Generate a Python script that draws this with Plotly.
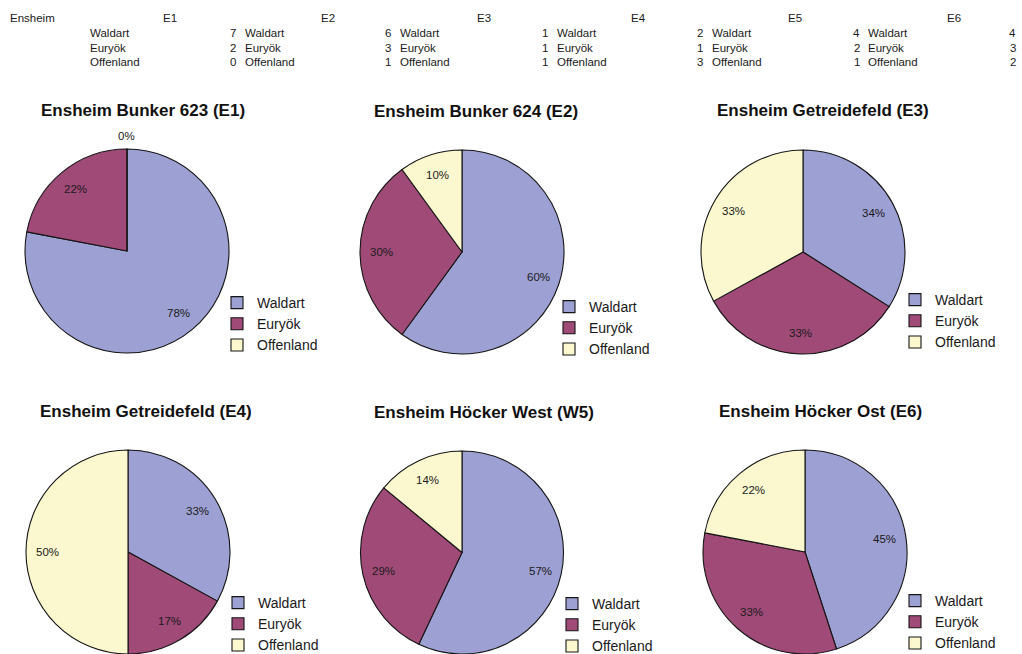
import math
import plotly.graph_objects as go

# ---- data -------------------------------------------------------------
categories = ["Waldart", "Euryök", "Offenland"]

site_codes = ["E1", "E2", "E3", "E4", "E5", "E6"]
site_titles = [
    "Ensheim Bunker 623 (E1)",
    "Ensheim Bunker 624 (E2)",
    "Ensheim Getreidefeld (E3)",
    "Ensheim Getreidefeld (E4)",
    "Ensheim Höcker West (W5)",
    "Ensheim Höcker Ost (E6)",
]

# species counts per site (Waldart, Euryök, Offenland)
counts_e1 = [7, 2, 0]
counts_e2 = [6, 3, 1]
counts_e3 = [1, 1, 1]
counts_e4 = [2, 1, 3]
counts_e5 = [4, 2, 1]
counts_e6 = [4, 3, 2]

# rounded shares in percent shown on the pies
share_e1 = [78, 22, 0]
share_e2 = [60, 30, 10]
share_e3 = [34, 33, 33]
share_e4 = [33, 17, 50]
share_e5 = [57, 29, 14]
share_e6 = [45, 33, 22]

all_counts = [counts_e1, counts_e2, counts_e3, counts_e4, counts_e5, counts_e6]
all_shares = [share_e1, share_e2, share_e3, share_e4, share_e5, share_e6]

# ---- styling / layout -------------------------------------------------
W, H = 1022, 654
FONT = "Liberation Sans, Arial, Helvetica, sans-serif"
TXT = "#1a1a1a"
slice_colors = ["#9DA0D2", "#A04A78", "#FBF8CF"]

# pie centre (px) and radius for each panel
pie_centers = [(127, 251), (462, 252), (803, 252), (128, 552), (462, 553), (805, 552)]
R = 102
title_pos = [(143, 111), (476, 112), (823, 111), (146, 411), (484, 412), (820, 411)]
# left edge of legend text and centre of the middle entry
legend_pos = [(257, 323), (589, 327), (935, 320), (258, 623), (592, 624), (935, 621)]


def px_x(x):
    return x / W


def px_y(y):
    return 1 - y / H


def note(x, y, text, font, xanchor="center"):
    return dict(x=px_x(x), y=px_y(y), xref="paper", yref="paper",
                xanchor=xanchor, yanchor="middle", showarrow=False,
                text=text, font=font)


fig = go.Figure()
annotations = []

for k, (vals, title) in enumerate(zip(all_shares, site_titles)):
    cx, cy = pie_centers[k]
    leg = "legend" if k == 0 else f"legend{k + 1}"
    # zero-width spaces keep each pie's legend entries separate
    pie_labels = [c + "\u200b" * k for c in categories]
    fig.add_trace(go.Pie(
        labels=pie_labels,
        values=vals,
        sort=False,
        direction="clockwise",
        rotation=0,
        textinfo="none",
        hoverinfo="label+percent",
        marker=dict(colors=slice_colors, line=dict(color="#151515", width=1.1)),
        domain=dict(x=[px_x(cx - R), px_x(cx + R)],
                    y=[max(0, px_y(cy + R)), px_y(cy - R)]),
        legend=leg,
        showlegend=True,
    ))

    # percentage labels placed along each slice's bisector
    total = sum(vals)
    cum = 0
    for v in vals:
        mid = 2 * math.pi * (cum + v / 2) / total
        d = R * (1.13 if v == 0 else 0.79)
        annotations.append(note(cx + math.sin(mid) * d, cy - math.cos(mid) * d,
                                f"{v}%", dict(family=FONT, size=11.5, color=TXT)))
        cum += v

    tx, ty = title_pos[k]
    annotations.append(note(tx, ty, f"<b>{title}</b>",
                            dict(family=FONT, size=17, color="#111111")))

# ---- table of counts along the top ------------------------------------
small = dict(family=FONT, size=11.5, color=TXT)
annotations.append(note(8, 18, "Ensheim", small, "left"))
header_x = [170, 328, 484, 638, 795, 954]
for code, hx in zip(site_codes, header_x):
    annotations.append(note(hx, 18, code, small))

row_y = [33, 48, 62]
label_cols = [88, 243, 398, 555, 710, 866]
number_right = [238, 393, 550, 705, 862, 1018]
for ri, cat in enumerate(categories):
    for lx in label_cols:
        annotations.append(note(lx, row_y[ri], cat, small, "left"))
    for counts, nx in zip(all_counts, number_right):
        annotations.append(note(nx, row_y[ri], str(counts[ri]), small, "right"))

# ---- one legend per pie -----------------------------------------------
legends = {}
for k, (lx, ly) in enumerate(legend_pos):
    key = "legend" if k == 0 else f"legend{k + 1}"
    legends[key] = dict(
        x=px_x(lx - 40), y=px_y(ly - 36), xanchor="left", yanchor="top",
        bgcolor="rgba(0,0,0,0)", borderwidth=0, itemwidth=30,
        font=dict(family=FONT, size=14, color=TXT),
        itemclick=False, itemdoubleclick=False,
    )

fig.update_layout(
    width=W, height=H, autosize=False,
    margin=dict(l=0, r=0, t=0, b=0, autoexpand=False),
    paper_bgcolor="white", plot_bgcolor="white",
    annotations=annotations,
    **legends,
)

fig.write_html("out.html")
